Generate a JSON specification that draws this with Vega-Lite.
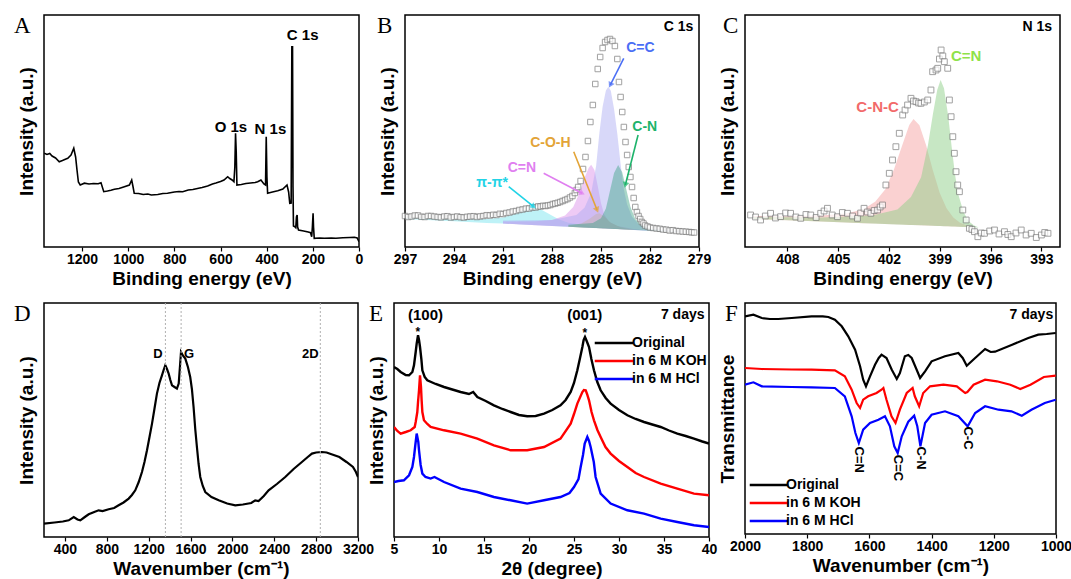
{
"$schema": "https://vega.github.io/schema/vega-lite/v6.json",
"padding": {"left": 13, "top": 14, "right": 5, "bottom": 2},
"bounds": "full",
"spacing": 12,
"resolve": {"scale": {"color": "independent", "fill": "independent"}, "legend": {"color": "independent", "fill": "independent"}},
"datasets": {
"survey": [
{"be":1364,"i":93.7},{"be":1352,"i":92.5},{"be":1340,"i":93.5},{"be":1330,"i":91},{"be":1315,"i":89},{"be":1299,"i":85.3},{"be":1285,"i":86.5},{"be":1270,"i":88},{"be":1262,"i":88.7},{"be":1248,"i":92},{"be":1236,"i":98.7},{"be":1228,"i":90},{"be":1222,"i":77},{"be":1216,"i":65},{"be":1208,"i":62},{"be":1190,"i":63.8},{"be":1170,"i":63},{"be":1150,"i":63.5},{"be":1130,"i":63.2},{"be":1118,"i":64.3},{"be":1106,"i":55.3},{"be":1090,"i":56},{"be":1075,"i":56.8},{"be":1060,"i":57.7},{"be":1040,"i":58.5},{"be":1020,"i":60},{"be":995,"i":62},{"be":985,"i":67},{"be":979,"i":60},{"be":974,"i":53.7},{"be":955,"i":53.5},{"be":935,"i":52.5},{"be":915,"i":53},{"be":900,"i":52},{"be":872,"i":52.5},{"be":850,"i":53.5},{"be":830,"i":53.8},{"be":800,"i":55},{"be":780,"i":55.5},{"be":764,"i":55.3},{"be":740,"i":57},{"be":720,"i":57.5},{"be":700,"i":58.5},{"be":680,"i":59.5},{"be":656,"i":61},{"be":635,"i":63},{"be":620,"i":64},{"be":600,"i":65.5},{"be":585,"i":67},{"be":569,"i":70.3},{"be":560,"i":68.5},{"be":550,"i":67},{"be":542,"i":65.3},{"be":538,"i":80},{"be":535,"i":113.7},{"be":532,"i":95},{"be":529,"i":62},{"be":510,"i":62.5},{"be":490,"i":63.5},{"be":470,"i":64},{"be":450,"i":64.5},{"be":439,"i":65.3},{"be":425,"i":67},{"be":412,"i":63},{"be":405,"i":62},{"be":402,"i":110.3},{"be":399,"i":70},{"be":396,"i":53.7},{"be":375,"i":55},{"be":352,"i":56.3},{"be":330,"i":58},{"be":312,"i":62},{"be":305,"i":55},{"be":300,"i":43.7},{"be":294,"i":44},{"be":291,"i":200.3},{"be":288,"i":200.3},{"be":286,"i":60},{"be":284,"i":21},{"be":278,"i":20.3},{"be":274,"i":19.3},{"be":271,"i":30},{"be":268,"i":32},{"be":266,"i":20},{"be":262,"i":17},{"be":240,"i":16},{"be":220,"i":15},{"be":210,"i":14.3},{"be":205,"i":10.3},{"be":202,"i":20},{"be":199,"i":33.7},{"be":197,"i":20},{"be":194,"i":8.7},{"be":170,"i":9},{"be":150,"i":8.7},{"be":120,"i":9},{"be":100,"i":8.7},{"be":70,"i":9.3},{"be":40,"i":9.5},{"be":20,"i":9.7},{"be":8,"i":9},{"be":0,"i":5.3}
],
"surveyLabels": [
{"be":244,"i":212,"label":"C 1s"},{"be":555,"i":120.3,"label":"O 1s"},{"be":384,"i":117.7,"label":"N 1s"}
],
"c1s": [
{"be":297.0,"i":31},{"be":296.8,"i":30},{"be":296.6,"i":30.5},{"be":296.4,"i":31.5},{"be":296.2,"i":31.5},{"be":296.0,"i":30.2},{"be":295.8,"i":30},{"be":295.6,"i":31},{"be":295.4,"i":31},{"be":295.2,"i":30.4},{"be":295.0,"i":30},{"be":294.8,"i":29.6},{"be":294.6,"i":30.5},{"be":294.4,"i":30.8},{"be":294.2,"i":29.5},{"be":294.0,"i":30},{"be":293.8,"i":30.5},{"be":293.6,"i":29.8},{"be":293.4,"i":29.5},{"be":293.2,"i":30.2},{"be":293.0,"i":30.5},{"be":292.8,"i":30.8},{"be":292.6,"i":30},{"be":292.4,"i":30.6},{"be":292.2,"i":31},{"be":292.0,"i":31.8},{"be":291.8,"i":31.5},{"be":291.6,"i":32.2},{"be":291.4,"i":32},{"be":291.2,"i":33.2},{"be":291.0,"i":33},{"be":290.8,"i":34},{"be":290.6,"i":34.5},{"be":290.4,"i":35.5},{"be":290.2,"i":36},{"be":290.0,"i":37},{"be":289.8,"i":37.5},{"be":289.6,"i":38.4},{"be":289.4,"i":38.5},{"be":289.2,"i":39.5},{"be":289.0,"i":39.5},{"be":288.85,"i":40.6},{"be":288.7,"i":40.5},{"be":288.55,"i":41.2},{"be":288.4,"i":41},{"be":288.25,"i":41.6},{"be":288.1,"i":42},{"be":287.95,"i":43},{"be":287.8,"i":43.5},{"be":287.65,"i":44.2},{"be":287.5,"i":45},{"be":287.35,"i":46},{"be":287.2,"i":47},{"be":287.05,"i":48},{"be":286.9,"i":49.5},{"be":286.75,"i":51},{"be":286.6,"i":54},{"be":286.5,"i":57},{"be":286.4,"i":60},{"be":286.25,"i":66},{"be":286.1,"i":78},{"be":285.95,"i":90},{"be":285.8,"i":106},{"be":285.65,"i":125},{"be":285.5,"i":142},{"be":285.35,"i":163},{"be":285.2,"i":178},{"be":285.05,"i":190},{"be":284.9,"i":199},{"be":284.75,"i":205},{"be":284.6,"i":207},{"be":284.45,"i":208},{"be":284.3,"i":206},{"be":284.15,"i":201},{"be":284.0,"i":188},{"be":283.9,"i":165},{"be":283.8,"i":150},{"be":283.7,"i":135},{"be":283.6,"i":120},{"be":283.5,"i":105},{"be":283.4,"i":92},{"be":283.3,"i":80},{"be":283.2,"i":70},{"be":283.1,"i":60},{"be":283.0,"i":49},{"be":282.9,"i":40},{"be":282.8,"i":35},{"be":282.7,"i":31},{"be":282.6,"i":28},{"be":282.5,"i":25},{"be":282.4,"i":23.5},{"be":282.3,"i":21.5},{"be":282.15,"i":20.5},{"be":282.0,"i":19.5},{"be":281.8,"i":19},{"be":281.6,"i":18.5},{"be":281.4,"i":18.2},{"be":281.2,"i":17.5},{"be":281.0,"i":17.3},{"be":280.8,"i":16.5},{"be":280.6,"i":16.8},{"be":280.4,"i":16},{"be":280.2,"i":15.8},{"be":280.0,"i":15.5},{"be":279.8,"i":15.3},{"be":279.6,"i":15},{"be":279.45,"i":14.7},{"be":279.3,"i":14.5}
],
"c1sFit": [
{"comp":"π-π*","be":297,"top":29.0,"base":28.0},{"comp":"π-π*","be":294,"top":27.7,"base":25.7},{"comp":"π-π*","be":292,"top":28.1,"base":24.1},{"comp":"π-π*","be":291,"top":29.4,"base":23.4},{"comp":"π-π*","be":290.3,"top":32.9,"base":22.9},{"comp":"π-π*","be":289.8,"top":36.5,"base":22.5},{"comp":"π-π*","be":289.2,"top":39,"base":22.0},{"comp":"π-π*","be":288.7,"top":37.7,"base":21.7},{"comp":"π-π*","be":288.2,"top":33.2,"base":21.2},{"comp":"π-π*","be":287.6,"top":27.7,"base":20.7},{"comp":"π-π*","be":287,"top":24.2,"base":20.2},{"comp":"π-π*","be":286,"top":21.5,"base":19.5},{"comp":"π-π*","be":285,"top":19.7,"base":18.7},{"comp":"π-π*","be":283,"top":17.4,"base":17.1},{"comp":"π-π*","be":281,"top":15.6,"base":15.6},
{"comp":"C=N","be":291,"top":25.4,"base":23.4},{"comp":"C=N","be":289,"top":25.8,"base":21.8},{"comp":"C=N","be":288,"top":27,"base":21.0},{"comp":"C=N","be":287.2,"top":31.4,"base":20.4},{"comp":"C=N","be":286.7,"top":40,"base":20.0},{"comp":"C=N","be":286.3,"top":54.7,"base":19.7},{"comp":"C=N","be":286.0,"top":69.5,"base":19.5},{"comp":"C=N","be":285.75,"top":79.3,"base":19.3},{"comp":"C=N","be":285.6,"top":82.2,"base":19.2},{"comp":"C=N","be":285.4,"top":77,"base":19.0},{"comp":"C=N","be":285.2,"top":60.9,"base":18.9},{"comp":"C=N","be":285.0,"top":43.7,"base":18.7},{"comp":"C=N","be":284.8,"top":32.5,"base":18.5},{"comp":"C=N","be":284.5,"top":25.3,"base":18.3},{"comp":"C=N","be":284,"top":20.9,"base":17.9},{"comp":"C=N","be":283,"top":18.1,"base":17.1},{"comp":"C=N","be":282,"top":16.3,"base":16.3},
{"comp":"C-O-H","be":287,"top":21.2,"base":20.2},{"comp":"C-O-H","be":286.2,"top":23.6,"base":19.6},{"comp":"C-O-H","be":285.7,"top":28.2,"base":19.2},{"comp":"C-O-H","be":285.3,"top":32.9,"base":18.9},{"comp":"C-O-H","be":285.1,"top":33.8,"base":18.8},{"comp":"C-O-H","be":284.8,"top":30.5,"base":18.5},{"comp":"C-O-H","be":284.4,"top":24.2,"base":18.2},{"comp":"C-O-H","be":283.8,"top":19.7,"base":17.7},{"comp":"C-O-H","be":283,"top":17.1,"base":17.1},
{"comp":"C=C","be":291,"top":26.4,"base":23.4},{"comp":"C=C","be":288,"top":27,"base":21.0},{"comp":"C=C","be":286.5,"top":31.9,"base":19.9},{"comp":"C=C","be":286,"top":39.5,"base":19.5},{"comp":"C=C","be":285.6,"top":54.2,"base":19.2},{"comp":"C=C","be":285.3,"top":80.9,"base":18.9},{"comp":"C=C","be":285.1,"top":113.8,"base":18.8},{"comp":"C=C","be":284.9,"top":140.6,"base":18.6},{"comp":"C=C","be":284.7,"top":156.5,"base":18.5},{"comp":"C=C","be":284.55,"top":160.3,"base":18.3},{"comp":"C=C","be":284.4,"top":156.2,"base":18.2},{"comp":"C=C","be":284.2,"top":138.1,"base":18.1},{"comp":"C=C","be":284.0,"top":112.9,"base":17.9},{"comp":"C=C","be":283.8,"top":82.7,"base":17.7},{"comp":"C=C","be":283.6,"top":57.6,"base":17.6},{"comp":"C=C","be":283.4,"top":42.4,"base":17.4},{"comp":"C=C","be":283.1,"top":30.2,"base":17.2},{"comp":"C=C","be":282.7,"top":22.9,"base":16.9},{"comp":"C=C","be":282,"top":18.3,"base":16.3},{"comp":"C=C","be":280,"top":15.3,"base":14.8},
{"comp":"C-N","be":287,"top":22.2,"base":20.2},{"comp":"C-N","be":285.5,"top":24.1,"base":19.1},{"comp":"C-N","be":285,"top":28.7,"base":18.7},{"comp":"C-N","be":284.7,"top":38.5,"base":18.5},{"comp":"C-N","be":284.45,"top":56.3,"base":18.3},{"comp":"C-N","be":284.2,"top":74.1,"base":18.1},{"comp":"C-N","be":283.95,"top":81.9,"base":17.9},{"comp":"C-N","be":283.7,"top":74.7,"base":17.7},{"comp":"C-N","be":283.45,"top":57.5,"base":17.5},{"comp":"C-N","be":283.2,"top":40.3,"base":17.3},{"comp":"C-N","be":282.9,"top":28,"base":17.0},{"comp":"C-N","be":282.5,"top":21.7,"base":16.7},{"comp":"C-N","be":282,"top":18.3,"base":16.3},{"comp":"C-N","be":281,"top":16.1,"base":15.6},{"comp":"C-N","be":280,"top":14.8,"base":14.8}
],
"c1sArrows": [
{"comp":"C=C","x1":283.61,"y1":188.7,"x2":284.43,"y2":162},
{"comp":"C-N","x1":282.73,"y1":112,"x2":283.51,"y2":62},
{"comp":"C-O-H","x1":286.67,"y1":95.3,"x2":285.24,"y2":37},
{"comp":"C=N","x1":288.51,"y1":73.7,"x2":286.16,"y2":53.7},
{"comp":"π-π*","x1":290.65,"y1":60.3,"x2":289.12,"y2":40.3}
],
"c1sLabels": [
{"comp":"C=C","be":282.59,"i":198.7},
{"comp":"C-N","be":282.32,"i":120},
{"comp":"C-O-H","be":288.1,"i":103.7},
{"comp":"C=N","be":289.84,"i":78.7},
{"comp":"π-π*","be":291.67,"i":63.7}
],
"n1s": [
{"be":410.17,"i":32},{"be":409.88,"i":30},{"be":409.58,"i":27},{"be":409.3,"i":31},{"be":408.99,"i":33.7},{"be":408.7,"i":29},{"be":408.4,"i":30.3},{"be":408.1,"i":34},{"be":407.81,"i":33.7},{"be":407.5,"i":30},{"be":407.21,"i":28.7},{"be":406.9,"i":32.5},{"be":406.62,"i":32},{"be":406.3,"i":29.5},{"be":406.03,"i":33.7},{"be":405.83,"i":36},{"be":405.63,"i":38.7},{"be":405.35,"i":32},{"be":405.04,"i":30.3},{"be":404.75,"i":34.5},{"be":404.45,"i":33.7},{"be":404.15,"i":31},{"be":403.86,"i":28.7},{"be":403.67,"i":34},{"be":403.47,"i":38.7},{"be":403.27,"i":35},{"be":403.07,"i":33.7},{"be":402.87,"i":36.5},{"be":402.67,"i":37},{"be":402.52,"i":40},{"be":402.38,"i":42},{"be":402.18,"i":62},{"be":401.98,"i":73.7},{"be":401.79,"i":87},{"be":401.59,"i":100.3},{"be":401.39,"i":113.7},{"be":401.19,"i":132},{"be":401.05,"i":137},{"be":400.9,"i":142},{"be":400.7,"i":148.7},{"be":400.55,"i":146},{"be":400.4,"i":145.3},{"be":400.25,"i":144},{"be":400.11,"i":143.7},{"be":399.91,"i":145},{"be":399.71,"i":147},{"be":399.52,"i":157},{"be":399.42,"i":175.3},{"be":399.22,"i":177},{"be":399.12,"i":178.7},{"be":399.02,"i":188},{"be":398.92,"i":197},{"be":398.82,"i":191},{"be":398.73,"i":185.3},{"be":398.53,"i":178.7},{"be":398.43,"i":147},{"be":398.33,"i":130.3},{"be":398.23,"i":110.3},{"be":398.14,"i":93.7},{"be":398.04,"i":75.3},{"be":397.94,"i":62},{"be":397.84,"i":55.3},{"be":397.64,"i":37},{"be":397.44,"i":27},{"be":397.25,"i":18.7},{"be":397.1,"i":17.5},{"be":396.95,"i":15.3},{"be":396.75,"i":10.3},{"be":396.55,"i":14},{"be":396.36,"i":13.7},{"be":396.05,"i":16},{"be":395.77,"i":17},{"be":395.5,"i":13},{"be":395.18,"i":15.3},{"be":394.98,"i":12.5},{"be":394.78,"i":10.3},{"be":394.5,"i":14},{"be":394.19,"i":17},{"be":393.9,"i":12},{"be":393.6,"i":13.7},{"be":393.3,"i":9.5},{"be":393.0,"i":12},{"be":392.8,"i":14.5},{"be":392.61,"i":13.7}
],
"n1sFit": [
{"comp":"C-N-C","be":410,"top":31,"base":28},{"comp":"C-N-C","be":408,"top":30.7,"base":26.7},{"comp":"C-N-C","be":406,"top":31.4,"base":25.4},{"comp":"C-N-C","be":404.5,"top":33.5,"base":24.5},{"comp":"C-N-C","be":403.5,"top":37.8,"base":23.8},{"comp":"C-N-C","be":402.8,"top":45.4,"base":23.4},{"comp":"C-N-C","be":402.2,"top":58,"base":23.0},{"comp":"C-N-C","be":401.7,"top":77.7,"base":22.7},{"comp":"C-N-C","be":401.2,"top":102.4,"base":22.4},{"comp":"C-N-C","be":400.8,"top":122.1,"base":22.1},{"comp":"C-N-C","be":400.55,"top":128,"base":22.0},{"comp":"C-N-C","be":400.2,"top":121.7,"base":21.7},{"comp":"C-N-C","be":399.8,"top":101.5,"base":21.5},{"comp":"C-N-C","be":399.4,"top":76.2,"base":21.2},{"comp":"C-N-C","be":399.0,"top":54,"base":21.0},{"comp":"C-N-C","be":398.6,"top":38.7,"base":20.7},{"comp":"C-N-C","be":398.2,"top":29.4,"base":20.4},{"comp":"C-N-C","be":397.8,"top":24.2,"base":20.2},{"comp":"C-N-C","be":397.3,"top":20.9,"base":19.9},{"comp":"C-N-C","be":397.0,"top":19.7,"base":19.7},
{"comp":"C=N","be":410,"top":30,"base":28},{"comp":"C=N","be":406,"top":29.4,"base":25.4},{"comp":"C=N","be":403,"top":31.5,"base":23.5},{"comp":"C=N","be":401.5,"top":37.6,"base":22.6},{"comp":"C=N","be":400.7,"top":50.1,"base":22.1},{"comp":"C=N","be":400.1,"top":69.7,"base":21.7},{"comp":"C=N","be":399.7,"top":101.4,"base":21.4},{"comp":"C=N","be":399.4,"top":133.2,"base":21.2},{"comp":"C=N","be":399.15,"top":157.1,"base":21.1},{"comp":"C=N","be":398.95,"top":167,"base":21.0},{"comp":"C=N","be":398.75,"top":158.8,"base":20.8},{"comp":"C=N","be":398.5,"top":130.7,"base":20.7},{"comp":"C=N","be":398.3,"top":100.5,"base":20.5},{"comp":"C=N","be":398.1,"top":72.4,"base":20.4},{"comp":"C=N","be":397.9,"top":52.3,"base":20.3},{"comp":"C=N","be":397.6,"top":35.1,"base":20.1},{"comp":"C=N","be":397.3,"top":25.9,"base":19.9},{"comp":"C=N","be":397.0,"top":21.7,"base":19.7},{"comp":"C=N","be":396.7,"top":19.5,"base":19.5}
],
"n1sLabels": [
{"comp":"C-N-C","be":402.67,"i":140.3},{"comp":"C=N","be":397.44,"i":191}
],
"raman": [
{"w":200,"i":13.4},{"w":300,"i":14.5},{"w":380,"i":15.5},{"w":436,"i":16.7},{"w":484,"i":20},{"w":520,"i":17.5},{"w":547,"i":16.7},{"w":590,"i":20},{"w":627,"i":22.7},{"w":680,"i":25},{"w":722,"i":26.7},{"w":760,"i":26},{"w":818,"i":27.7},{"w":870,"i":29},{"w":913,"i":31.7},{"w":960,"i":34.5},{"w":1009,"i":38.4},{"w":1040,"i":42},{"w":1072,"i":46.7},{"w":1105,"i":55},{"w":1136,"i":65},{"w":1160,"i":75},{"w":1184,"i":86.7},{"w":1208,"i":100},{"w":1232,"i":113.4},{"w":1255,"i":128},{"w":1279,"i":143.4},{"w":1303,"i":154},{"w":1327,"i":161.7},{"w":1343,"i":167},{"w":1359,"i":171.7},{"w":1375,"i":168},{"w":1391,"i":163.4},{"w":1407,"i":157},{"w":1423,"i":151.7},{"w":1447,"i":150},{"w":1470,"i":148.4},{"w":1487,"i":153.4},{"w":1500,"i":172},{"w":1509,"i":185},{"w":1530,"i":181},{"w":1550,"i":178.4},{"w":1575,"i":170},{"w":1597,"i":160},{"w":1613,"i":148},{"w":1629,"i":130},{"w":1645,"i":108},{"w":1661,"i":90},{"w":1677,"i":73},{"w":1693,"i":60},{"w":1717,"i":51},{"w":1741,"i":45},{"w":1800,"i":40},{"w":1869,"i":36.7},{"w":1950,"i":33.5},{"w":2027,"i":31.7},{"w":2100,"i":32.5},{"w":2180,"i":34},{"w":2218,"i":36.7},{"w":2250,"i":36},{"w":2300,"i":41},{"w":2346,"i":46.7},{"w":2425,"i":53},{"w":2505,"i":60},{"w":2585,"i":68},{"w":2664,"i":75},{"w":2720,"i":80},{"w":2760,"i":83.4},{"w":2800,"i":84.5},{"w":2855,"i":85},{"w":2900,"i":84.5},{"w":2940,"i":83},{"w":3022,"i":80},{"w":3090,"i":75},{"w":3152,"i":70},{"w":3180,"i":65},{"w":3200,"i":60}
],
"ramanLines": [{"w":1360},{"w":1510},{"w":2840}],
"ramanLabels": [{"w":1289,"i":183.4,"label":"D"},{"w":1585,"i":183.4,"label":"G"},{"w":2745,"i":183.4,"label":"2D"}],
"xrd": [
{"s":"Original","t":5.0,"i":170},{"s":"Original","t":5.37,"i":168},{"s":"Original","t":5.74,"i":165},{"s":"Original","t":6.3,"i":162},{"s":"Original","t":6.67,"i":161.7},{"s":"Original","t":7.04,"i":165},{"s":"Original","t":7.22,"i":171.7},{"s":"Original","t":7.41,"i":185},{"s":"Original","t":7.52,"i":193.4},{"s":"Original","t":7.67,"i":201.7},{"s":"Original","t":7.78,"i":197},{"s":"Original","t":7.89,"i":190},{"s":"Original","t":8.04,"i":178},{"s":"Original","t":8.15,"i":166.7},{"s":"Original","t":8.41,"i":160},{"s":"Original","t":8.7,"i":156.7},{"s":"Original","t":9.63,"i":153},{"s":"Original","t":10.56,"i":150},{"s":"Original","t":11.48,"i":147.5},{"s":"Original","t":12.4,"i":145},{"s":"Original","t":13.33,"i":143},{"s":"Original","t":13.8,"i":145},{"s":"Original","t":14.26,"i":140},{"s":"Original","t":15.19,"i":136},{"s":"Original","t":16.1,"i":131.7},{"s":"Original","t":17.04,"i":128},{"s":"Original","t":17.96,"i":125},{"s":"Original","t":18.89,"i":122},{"s":"Original","t":19.8,"i":120.7},{"s":"Original","t":20.74,"i":121},{"s":"Original","t":21.67,"i":123.4},{"s":"Original","t":22.59,"i":127},{"s":"Original","t":23.5,"i":131.7},{"s":"Original","t":24.07,"i":137},{"s":"Original","t":24.63,"i":145},{"s":"Original","t":25.0,"i":154},{"s":"Original","t":25.37,"i":166.7},{"s":"Original","t":25.67,"i":179},{"s":"Original","t":25.93,"i":190},{"s":"Original","t":26.07,"i":197},{"s":"Original","t":26.22,"i":200},{"s":"Original","t":26.41,"i":196},{"s":"Original","t":26.67,"i":190},{"s":"Original","t":26.93,"i":178},{"s":"Original","t":27.22,"i":166.7},{"s":"Original","t":27.59,"i":155},{"s":"Original","t":27.96,"i":146.7},{"s":"Original","t":28.52,"i":139},{"s":"Original","t":29.07,"i":133.4},{"s":"Original","t":30.0,"i":127},{"s":"Original","t":30.93,"i":121.7},{"s":"Original","t":31.85,"i":118},{"s":"Original","t":32.78,"i":115},{"s":"Original","t":33.7,"i":112.5},{"s":"Original","t":34.63,"i":110},{"s":"Original","t":35.56,"i":106.5},{"s":"Original","t":36.48,"i":103.4},{"s":"Original","t":37.41,"i":101},{"s":"Original","t":38.33,"i":98.4},{"s":"Original","t":39.26,"i":95.5},{"s":"Original","t":40.0,"i":93.4},
{"s":"in 6 M KOH","t":5.0,"i":110},{"s":"in 6 M KOH","t":5.37,"i":106},{"s":"in 6 M KOH","t":5.74,"i":103.4},{"s":"in 6 M KOH","t":6.3,"i":105},{"s":"in 6 M KOH","t":6.85,"i":106.7},{"s":"in 6 M KOH","t":7.3,"i":110},{"s":"in 6 M KOH","t":7.41,"i":115},{"s":"in 6 M KOH","t":7.59,"i":125},{"s":"in 6 M KOH","t":7.67,"i":135},{"s":"in 6 M KOH","t":7.78,"i":146.7},{"s":"in 6 M KOH","t":7.89,"i":161.7},{"s":"in 6 M KOH","t":8.0,"i":150},{"s":"in 6 M KOH","t":8.07,"i":136.7},{"s":"in 6 M KOH","t":8.15,"i":125},{"s":"in 6 M KOH","t":8.33,"i":116.7},{"s":"in 6 M KOH","t":8.7,"i":113},{"s":"in 6 M KOH","t":9.07,"i":110},{"s":"in 6 M KOH","t":10.56,"i":106.7},{"s":"in 6 M KOH","t":12.4,"i":103.4},{"s":"in 6 M KOH","t":14.26,"i":98.4},{"s":"in 6 M KOH","t":16.1,"i":91.7},{"s":"in 6 M KOH","t":17.96,"i":86.7},{"s":"in 6 M KOH","t":19.8,"i":86.7},{"s":"in 6 M KOH","t":21.67,"i":90},{"s":"in 6 M KOH","t":23.5,"i":98.4},{"s":"in 6 M KOH","t":24.63,"i":113.4},{"s":"in 6 M KOH","t":25.0,"i":123},{"s":"in 6 M KOH","t":25.37,"i":133.4},{"s":"in 6 M KOH","t":25.93,"i":145},{"s":"in 6 M KOH","t":26.1,"i":147},{"s":"in 6 M KOH","t":26.3,"i":146.7},{"s":"in 6 M KOH","t":26.45,"i":143},{"s":"in 6 M KOH","t":26.67,"i":136.7},{"s":"in 6 M KOH","t":26.95,"i":125},{"s":"in 6 M KOH","t":27.22,"i":116.7},{"s":"in 6 M KOH","t":27.6,"i":107},{"s":"in 6 M KOH","t":27.96,"i":100},{"s":"in 6 M KOH","t":28.5,"i":90},{"s":"in 6 M KOH","t":29.07,"i":83.4},{"s":"in 6 M KOH","t":30.0,"i":76},{"s":"in 6 M KOH","t":30.93,"i":70},{"s":"in 6 M KOH","t":31.85,"i":64},{"s":"in 6 M KOH","t":32.78,"i":60},{"s":"in 6 M KOH","t":34.63,"i":53.4},{"s":"in 6 M KOH","t":36.48,"i":48.4},{"s":"in 6 M KOH","t":38.33,"i":43.4},{"s":"in 6 M KOH","t":40.0,"i":41.7},
{"s":"in 6 M HCl","t":5.0,"i":55},{"s":"in 6 M HCl","t":5.5,"i":56},{"s":"in 6 M HCl","t":6.1,"i":56.7},{"s":"in 6 M HCl","t":6.67,"i":61.7},{"s":"in 6 M HCl","t":7.04,"i":70},{"s":"in 6 M HCl","t":7.22,"i":80},{"s":"in 6 M HCl","t":7.37,"i":92},{"s":"in 6 M HCl","t":7.52,"i":103.4},{"s":"in 6 M HCl","t":7.7,"i":95},{"s":"in 6 M HCl","t":7.78,"i":86.7},{"s":"in 6 M HCl","t":7.96,"i":72},{"s":"in 6 M HCl","t":8.15,"i":63.4},{"s":"in 6 M HCl","t":8.5,"i":60},{"s":"in 6 M HCl","t":9.07,"i":58.4},{"s":"in 6 M HCl","t":9.5,"i":60},{"s":"in 6 M HCl","t":10.56,"i":55},{"s":"in 6 M HCl","t":12.4,"i":48.4},{"s":"in 6 M HCl","t":14.26,"i":45},{"s":"in 6 M HCl","t":16.1,"i":40},{"s":"in 6 M HCl","t":17.96,"i":36.7},{"s":"in 6 M HCl","t":19.8,"i":33.4},{"s":"in 6 M HCl","t":21.67,"i":36.7},{"s":"in 6 M HCl","t":23.5,"i":40},{"s":"in 6 M HCl","t":24.5,"i":44},{"s":"in 6 M HCl","t":25.0,"i":50},{"s":"in 6 M HCl","t":25.5,"i":58},{"s":"in 6 M HCl","t":25.74,"i":70},{"s":"in 6 M HCl","t":26.0,"i":82},{"s":"in 6 M HCl","t":26.19,"i":93.4},{"s":"in 6 M HCl","t":26.48,"i":100},{"s":"in 6 M HCl","t":26.67,"i":96},{"s":"in 6 M HCl","t":26.85,"i":90},{"s":"in 6 M HCl","t":27.2,"i":75},{"s":"in 6 M HCl","t":27.4,"i":60},{"s":"in 6 M HCl","t":27.96,"i":43.4},{"s":"in 6 M HCl","t":29.07,"i":33.4},{"s":"in 6 M HCl","t":30.93,"i":26.7},{"s":"in 6 M HCl","t":32.78,"i":23.4},{"s":"in 6 M HCl","t":34.63,"i":18.4},{"s":"in 6 M HCl","t":36.48,"i":15},{"s":"in 6 M HCl","t":38.33,"i":11.7},{"s":"in 6 M HCl","t":40.0,"i":10}
],
"xrdLabels": [
{"t":8.5,"i":221.7,"label":"(100)"},{"t":26.2,"i":221.7,"label":"(001)"}
],
"xrdStars": [
{"t":7.65,"i":205,"label":"*"},{"t":26.2,"i":204,"label":"*"}
],
"ftir": [
{"s":"Original","w":2000,"t":217.7},{"s":"Original","w":1973,"t":219.3},{"s":"Original","w":1946,"t":216},{"s":"Original","w":1920,"t":215},{"s":"Original","w":1893,"t":215},{"s":"Original","w":1850,"t":216},{"s":"Original","w":1786,"t":217.7},{"s":"Original","w":1750,"t":217.7},{"s":"Original","w":1732,"t":217},{"s":"Original","w":1711,"t":214.3},{"s":"Original","w":1689,"t":207.7},{"s":"Original","w":1668,"t":197.7},{"s":"Original","w":1646,"t":184.3},{"s":"Original","w":1630,"t":167.7},{"s":"Original","w":1620,"t":154.3},{"s":"Original","w":1611,"t":147.7},{"s":"Original","w":1598,"t":157.7},{"s":"Original","w":1582,"t":169.3},{"s":"Original","w":1570,"t":176},{"s":"Original","w":1561,"t":179.3},{"s":"Original","w":1545,"t":176},{"s":"Original","w":1528,"t":164.3},{"s":"Original","w":1512,"t":155},{"s":"Original","w":1502,"t":161},{"s":"Original","w":1486,"t":177.7},{"s":"Original","w":1475,"t":179},{"s":"Original","w":1464,"t":176},{"s":"Original","w":1448,"t":164.3},{"s":"Original","w":1437,"t":156},{"s":"Original","w":1421,"t":162.7},{"s":"Original","w":1400,"t":172.7},{"s":"Original","w":1357,"t":177.7},{"s":"Original","w":1314,"t":181},{"s":"Original","w":1300,"t":176},{"s":"Original","w":1287,"t":168.3},{"s":"Original","w":1260,"t":176},{"s":"Original","w":1228,"t":185},{"s":"Original","w":1210,"t":182},{"s":"Original","w":1196,"t":182.3},{"s":"Original","w":1143,"t":189},{"s":"Original","w":1089,"t":196},{"s":"Original","w":1057,"t":199.3},{"s":"Original","w":1030,"t":200},{"s":"Original","w":1001,"t":201},
{"s":"in 6 M KOH","w":2000,"t":166},{"s":"in 6 M KOH","w":1946,"t":165},{"s":"in 6 M KOH","w":1850,"t":164.5},{"s":"in 6 M KOH","w":1786,"t":164.3},{"s":"in 6 M KOH","w":1711,"t":163.7},{"s":"in 6 M KOH","w":1679,"t":157.7},{"s":"in 6 M KOH","w":1657,"t":144.3},{"s":"in 6 M KOH","w":1641,"t":131},{"s":"in 6 M KOH","w":1630,"t":126},{"s":"in 6 M KOH","w":1620,"t":134.3},{"s":"in 6 M KOH","w":1604,"t":137.7},{"s":"in 6 M KOH","w":1577,"t":141},{"s":"in 6 M KOH","w":1561,"t":144.3},{"s":"in 6 M KOH","w":1555,"t":146},{"s":"in 6 M KOH","w":1545,"t":134.3},{"s":"in 6 M KOH","w":1529,"t":117.7},{"s":"in 6 M KOH","w":1516,"t":111},{"s":"in 6 M KOH","w":1502,"t":124.3},{"s":"in 6 M KOH","w":1480,"t":141},{"s":"in 6 M KOH","w":1461,"t":146},{"s":"in 6 M KOH","w":1454,"t":137.7},{"s":"in 6 M KOH","w":1440,"t":127.7},{"s":"in 6 M KOH","w":1427,"t":141},{"s":"in 6 M KOH","w":1405,"t":147.7},{"s":"in 6 M KOH","w":1362,"t":149.3},{"s":"in 6 M KOH","w":1319,"t":147.7},{"s":"in 6 M KOH","w":1292,"t":141},{"s":"in 6 M KOH","w":1285,"t":142},{"s":"in 6 M KOH","w":1265,"t":149.3},{"s":"in 6 M KOH","w":1228,"t":154.3},{"s":"in 6 M KOH","w":1190,"t":152.7},{"s":"in 6 M KOH","w":1147,"t":149.3},{"s":"in 6 M KOH","w":1115,"t":145},{"s":"in 6 M KOH","w":1082,"t":149.3},{"s":"in 6 M KOH","w":1039,"t":157},{"s":"in 6 M KOH","w":1001,"t":158.3},
{"s":"in 6 M HCl","w":2000,"t":149.3},{"s":"in 6 M HCl","w":1973,"t":151.7},{"s":"in 6 M HCl","w":1946,"t":147.7},{"s":"in 6 M HCl","w":1850,"t":147},{"s":"in 6 M HCl","w":1786,"t":146.7},{"s":"in 6 M HCl","w":1711,"t":146},{"s":"in 6 M HCl","w":1679,"t":137.7},{"s":"in 6 M HCl","w":1657,"t":117.7},{"s":"in 6 M HCl","w":1645,"t":101},{"s":"in 6 M HCl","w":1634,"t":91},{"s":"in 6 M HCl","w":1620,"t":104.3},{"s":"in 6 M HCl","w":1598,"t":111},{"s":"in 6 M HCl","w":1571,"t":114.3},{"s":"in 6 M HCl","w":1550,"t":117.7},{"s":"in 6 M HCl","w":1534,"t":107.7},{"s":"in 6 M HCl","w":1520,"t":87.7},{"s":"in 6 M HCl","w":1509,"t":81},{"s":"in 6 M HCl","w":1496,"t":97.7},{"s":"in 6 M HCl","w":1475,"t":112.3},{"s":"in 6 M HCl","w":1456,"t":118.3},{"s":"in 6 M HCl","w":1446,"t":107.7},{"s":"in 6 M HCl","w":1436,"t":87.7},{"s":"in 6 M HCl","w":1421,"t":111},{"s":"in 6 M HCl","w":1400,"t":119.3},{"s":"in 6 M HCl","w":1357,"t":122.7},{"s":"in 6 M HCl","w":1314,"t":117.7},{"s":"in 6 M HCl","w":1284,"t":107.7},{"s":"in 6 M HCl","w":1260,"t":121},{"s":"in 6 M HCl","w":1228,"t":127.7},{"s":"in 6 M HCl","w":1185,"t":124.3},{"s":"in 6 M HCl","w":1143,"t":122.7},{"s":"in 6 M HCl","w":1110,"t":118.3},{"s":"in 6 M HCl","w":1079,"t":124.3},{"s":"in 6 M HCl","w":1036,"t":131},{"s":"in 6 M HCl","w":1001,"t":134.3}
],
"ftirLabels": [
{"w":1633,"t":74.3,"label":"C=N"},{"w":1509,"t":66,"label":"C=C"},{"w":1434,"t":76,"label":"C-N"},{"w":1284,"t":96,"label":"C-C"}
]
},
"vconcat": [
{"bounds": "flush", "spacing": 46, "resolve": {"scale": {"color": "independent", "fill": "independent"}, "legend": {"color": "independent", "fill": "independent"}}, "hconcat": [
{"width": 315, "height": 232, "title": {"text": "A", "dx": -30},
 "layer": [
  {"data": {"name": "survey"}, "mark": {"type": "line", "color": "black", "strokeWidth": 1.6, "clip": true},
   "encoding": {"x": {"field": "be", "type": "quantitative", "scale": {"domain": [0, 1365], "reverse": true, "nice": false},
     "axis": {"values": [1300,1200,1100,1000,900,800,700,600,500,400,300,200,100,0], "labelExpr": "datum.value % 200 === 0 ? datum.label : ''", "title": "Binding energy (eV)"}},
    "y": {"field": "i", "type": "quantitative", "scale": {"domain": [0, 232], "nice": false}, "axis": {"title": "Intensity (a.u.)"}}}},
  {"data": {"name": "surveyLabels"}, "mark": {"type": "text", "fontSize": 15, "fontWeight": "bold", "color": "black"},
   "encoding": {"x": {"field": "be", "type": "quantitative"}, "y": {"field": "i", "type": "quantitative"}, "text": {"field": "label"}}}
 ]},
{"width": 294, "height": 232, "title": {"text": "B", "dx": -28},
 "layer": [
  {"data": {"name": "c1sFit"}, "mark": {"type": "area", "fillOpacity": 0.45, "clip": true},
   "encoding": {"x": {"field": "be", "type": "quantitative", "scale": {"domain": [279, 297], "reverse": true, "nice": false},
     "axis": {"values": [297,295.5,294,292.5,291,289.5,288,286.5,285,283.5,282,280.5,279], "labelExpr": "(297 - datum.value) % 3 === 0 ? datum.label : ''", "title": "Binding energy (eV)"}},
    "y": {"field": "top", "type": "quantitative", "stack": null, "scale": {"domain": [0, 232], "nice": false}, "axis": {"title": "Intensity (a.u.)"}},
    "y2": {"field": "base"},
    "fill": {"field": "comp", "type": "nominal", "scale": {"domain": ["π-π*","C=N","C-O-H","C=C","C-N"], "range": ["#6fe3ee","#d98ae8","#d9b86a","#a9a9f2","#3fa585"]}, "legend": null}}},
  {"data": {"name": "c1s"}, "mark": {"type": "point", "shape": "square", "filled": true, "fill": "white", "stroke": "#7a7a7a", "strokeWidth": 1, "size": 30},
   "encoding": {"x": {"field": "be", "type": "quantitative"}, "y": {"field": "i", "type": "quantitative"}}},
  {"data": {"name": "c1sArrows"}, "mark": {"type": "rule", "strokeWidth": 1.6},
   "encoding": {"x": {"field": "x1", "type": "quantitative"}, "x2": {"field": "x2"}, "y": {"field": "y1", "type": "quantitative"}, "y2": {"field": "y2"},
    "color": {"field": "comp", "type": "nominal", "scale": {"domain": ["π-π*","C=N","C-O-H","C=C","C-N"], "range": ["#22d3e6","#e07ff0","#e3a437","#4a6ef5","#1db36b"]}, "legend": null}}},
  {"data": {"name": "c1sArrows"}, "transform": [{"filter": "datum.comp === 'C=C'"}], "mark": {"type": "point", "shape": "triangle-up", "filled": true, "size": 45, "angle": 207, "color": "#4a6ef5"},
   "encoding": {"x": {"field": "x2", "type": "quantitative"}, "y": {"field": "y2", "type": "quantitative"}}},
  {"data": {"name": "c1sArrows"}, "transform": [{"filter": "datum.comp === 'C-N'"}], "mark": {"type": "point", "shape": "triangle-up", "filled": true, "size": 45, "angle": 194, "color": "#1db36b"},
   "encoding": {"x": {"field": "x2", "type": "quantitative"}, "y": {"field": "y2", "type": "quantitative"}}},
  {"data": {"name": "c1sArrows"}, "transform": [{"filter": "datum.comp === 'C-O-H'"}], "mark": {"type": "point", "shape": "triangle-up", "filled": true, "size": 45, "angle": 158, "color": "#e3a437"},
   "encoding": {"x": {"field": "x2", "type": "quantitative"}, "y": {"field": "y2", "type": "quantitative"}}},
  {"data": {"name": "c1sArrows"}, "transform": [{"filter": "datum.comp === 'C=N'"}], "mark": {"type": "point", "shape": "triangle-up", "filled": true, "size": 45, "angle": 117, "color": "#e07ff0"},
   "encoding": {"x": {"field": "x2", "type": "quantitative"}, "y": {"field": "y2", "type": "quantitative"}}},
  {"data": {"name": "c1sArrows"}, "transform": [{"filter": "datum.comp === 'π-π*'"}], "mark": {"type": "point", "shape": "triangle-up", "filled": true, "size": 45, "angle": 129, "color": "#22d3e6"},
   "encoding": {"x": {"field": "x2", "type": "quantitative"}, "y": {"field": "y2", "type": "quantitative"}}},
  {"data": {"name": "c1sLabels"}, "mark": {"type": "text", "fontSize": 14, "fontWeight": "bold"},
   "encoding": {"x": {"field": "be", "type": "quantitative"}, "y": {"field": "i", "type": "quantitative"}, "text": {"field": "comp"},
    "color": {"field": "comp", "type": "nominal", "legend": null}}},
  {"data": {"values": [{"be": 279.35, "i": 220, "label": "C 1s"}]}, "mark": {"type": "text", "fontSize": 14, "fontWeight": "bold", "align": "right", "color": "black"},
   "encoding": {"x": {"field": "be", "type": "quantitative"}, "y": {"field": "i", "type": "quantitative"}, "text": {"field": "label"}}}
 ]},
{"width": 315, "height": 232, "title": {"text": "C", "dx": -22},
 "layer": [
  {"data": {"name": "n1sFit"}, "mark": {"type": "area", "fillOpacity": 0.5, "clip": true},
   "encoding": {"x": {"field": "be", "type": "quantitative", "scale": {"domain": [391.9, 410.5], "reverse": true, "nice": false},
     "axis": {"values": [409.5,408,406.5,405,403.5,402,400.5,399,397.5,396,394.5,393], "labelExpr": "(408 - datum.value) % 3 === 0 ? datum.label : ''", "title": "Binding energy (eV)"}},
    "y": {"field": "top", "type": "quantitative", "stack": null, "scale": {"domain": [0, 232], "nice": false}, "axis": {"title": "Intensity (a.u.)"}},
    "y2": {"field": "base"},
    "fill": {"field": "comp", "type": "nominal", "scale": {"domain": ["C-N-C","C=N"], "range": ["#f5a3a3","#8fcf8a"]}, "legend": null}}},
  {"data": {"name": "n1s"}, "mark": {"type": "point", "shape": "square", "filled": true, "fill": "white", "stroke": "#7a7a7a", "strokeWidth": 1, "size": 34},
   "encoding": {"x": {"field": "be", "type": "quantitative"}, "y": {"field": "i", "type": "quantitative"}}},
  {"data": {"name": "n1sLabels"}, "mark": {"type": "text", "fontSize": 15, "fontWeight": "bold"},
   "encoding": {"x": {"field": "be", "type": "quantitative"}, "y": {"field": "i", "type": "quantitative"}, "text": {"field": "comp"},
    "color": {"field": "comp", "type": "nominal", "scale": {"domain": ["C-N-C","C=N"], "range": ["#f26a6a","#8fe24a"]}, "legend": null}}},
  {"data": {"values": [{"be": 392.37, "i": 220, "label": "N 1s"}]}, "mark": {"type": "text", "fontSize": 14, "fontWeight": "bold", "align": "right", "color": "black"},
   "encoding": {"x": {"field": "be", "type": "quantitative"}, "y": {"field": "i", "type": "quantitative"}, "text": {"field": "label"}}}
 ]}
]},
{"bounds": "flush", "spacing": 36, "resolve": {"scale": {"color": "independent", "fill": "independent"}, "legend": {"color": "independent", "fill": "independent"}}, "hconcat": [
{"width": 314, "height": 234, "title": {"text": "D", "dx": -30},
 "layer": [
  {"data": {"name": "raman"}, "mark": {"type": "line", "color": "black", "strokeWidth": 2.2, "clip": true},
   "encoding": {"x": {"field": "w", "type": "quantitative", "scale": {"domain": [200, 3200], "nice": false},
     "axis": {"values": [400,800,1200,1600,2000,2400,2800,3200], "title": "Wavenumber (cm⁻¹)"}},
    "y": {"field": "i", "type": "quantitative", "scale": {"domain": [0, 234], "nice": false}, "axis": {"title": "Intensity (a.u.)"}}}},
  {"data": {"name": "ramanLines"}, "mark": {"type": "rule", "color": "#b0b0b0", "strokeWidth": 1, "strokeDash": [2, 2]},
   "encoding": {"x": {"field": "w", "type": "quantitative"}}},
  {"data": {"name": "ramanLabels"}, "mark": {"type": "text", "fontSize": 13, "fontWeight": "bold", "color": "black"},
   "encoding": {"x": {"field": "w", "type": "quantitative"}, "y": {"field": "i", "type": "quantitative"}, "text": {"field": "label"}}}
 ]},
{"width": 315, "height": 234, "title": {"text": "E", "dx": -25},
 "layer": [
  {"data": {"name": "xrd"}, "mark": {"type": "line", "strokeWidth": 2.4, "clip": true},
   "encoding": {"x": {"field": "t", "type": "quantitative", "scale": {"domain": [5, 40], "nice": false},
     "axis": {"values": [5,7.5,10,12.5,15,17.5,20,22.5,25,27.5,30,32.5,35,37.5,40], "labelExpr": "datum.value % 5 === 0 ? datum.label : ''", "title": "2θ (degree)"}},
    "y": {"field": "i", "type": "quantitative", "scale": {"domain": [0, 234], "nice": false}, "axis": {"title": "Intensity (a.u.)"}},
    "color": {"field": "s", "type": "nominal", "scale": {"domain": ["Original","in 6 M KOH","in 6 M HCl"], "range": ["black","#ff0000","#0000ff"]},
     "legend": {"orient": "none", "legendX": 212, "legendY": 32, "title": null, "symbolType": "M-3,0H3", "symbolSize": 165, "symbolStrokeWidth": 2.5, "symbolFillColor": "transparent", "labelFontSize": 14, "labelFontWeight": "bold", "labelFont": "Liberation Sans", "labelColor": "black", "rowPadding": 3, "labelOffset": 10, "padding": 0}}}},
  {"data": {"name": "xrdLabels"}, "mark": {"type": "text", "fontSize": 15, "fontWeight": "bold", "color": "black"},
   "encoding": {"x": {"field": "t", "type": "quantitative"}, "y": {"field": "i", "type": "quantitative"}, "text": {"field": "label"}}},
  {"data": {"name": "xrdStars"}, "mark": {"type": "text", "fontSize": 12, "fontWeight": "bold", "color": "black"},
   "encoding": {"x": {"field": "t", "type": "quantitative"}, "y": {"field": "i", "type": "quantitative"}, "text": {"field": "label"}}},
  {"data": {"values": [{"t": 39.5, "i": 221.7, "label": "7 days"}]}, "mark": {"type": "text", "fontSize": 14, "fontWeight": "bold", "align": "right", "color": "black"},
   "encoding": {"x": {"field": "t", "type": "quantitative"}, "y": {"field": "i", "type": "quantitative"}, "text": {"field": "label"}}}
 ]},
{"width": 311, "height": 231, "title": {"text": "F", "dx": -20},
 "layer": [
  {"data": {"name": "ftir"}, "mark": {"type": "line", "strokeWidth": 2.2, "clip": true},
   "encoding": {"x": {"field": "w", "type": "quantitative", "scale": {"domain": [1000, 2000], "reverse": true, "nice": false},
     "axis": {"values": [2000,1900,1800,1700,1600,1500,1400,1300,1200,1100,1000], "labelExpr": "datum.value % 200 === 0 ? datum.label : ''", "title": "Wavenumber (cm⁻¹)"}},
    "y": {"field": "t", "type": "quantitative", "scale": {"domain": [0, 231], "nice": false}, "axis": {"title": "Transmittance"}},
    "color": {"field": "s", "type": "nominal", "scale": {"domain": ["Original","in 6 M KOH","in 6 M HCl"], "range": ["black","#ff0000","#0000ff"]},
     "legend": {"orient": "none", "legendX": 16, "legendY": 174, "title": null, "symbolType": "M-3,0H3", "symbolSize": 165, "symbolStrokeWidth": 2.5, "symbolFillColor": "transparent", "labelFontSize": 14, "labelFontWeight": "bold", "labelFont": "Liberation Sans", "labelColor": "black", "rowPadding": 3, "labelOffset": 9, "padding": 0}}}},
  {"data": {"name": "ftirLabels"}, "mark": {"type": "text", "fontSize": 13, "fontWeight": "bold", "angle": 90, "color": "black"},
   "encoding": {"x": {"field": "w", "type": "quantitative"}, "y": {"field": "t", "type": "quantitative"}, "text": {"field": "label"}}},
  {"data": {"values": [{"w": 1009, "t": 219.3, "label": "7 days"}]}, "mark": {"type": "text", "fontSize": 14, "fontWeight": "bold", "align": "right", "color": "black"},
   "encoding": {"x": {"field": "w", "type": "quantitative"}, "y": {"field": "t", "type": "quantitative"}, "text": {"field": "label"}}}
 ]}
]}
],
"config": {
 "background": "white",
 "view": {"stroke": "black", "strokeWidth": 1.5},
 "font": "Liberation Sans",
 "axis": {"domain": false, "grid": false, "labelFont": "Liberation Sans", "labelFontWeight": "bold", "labelFontSize": 14, "labelColor": "black", "labelOverlap": false, "labelFlush": false, "labelBound": false, "titleFont": "Liberation Sans", "titleFontWeight": "bold", "titleFontSize": 19, "titleColor": "black", "tickColor": "black", "tickSize": 4, "tickWidth": 1.2, "labelPadding": 1, "titlePadding": 3},
 "axisX": {"format": "d"},
 "axisY": {"labels": false, "ticks": false, "titlePadding": 8},
 "title": {"font": "Liberation Serif", "fontSize": 23, "fontWeight": "normal", "anchor": "start", "frame": "group", "baseline": "top", "offset": 0, "color": "black", "dy": 27},
 "text": {"font": "Liberation Sans"}
}
}
